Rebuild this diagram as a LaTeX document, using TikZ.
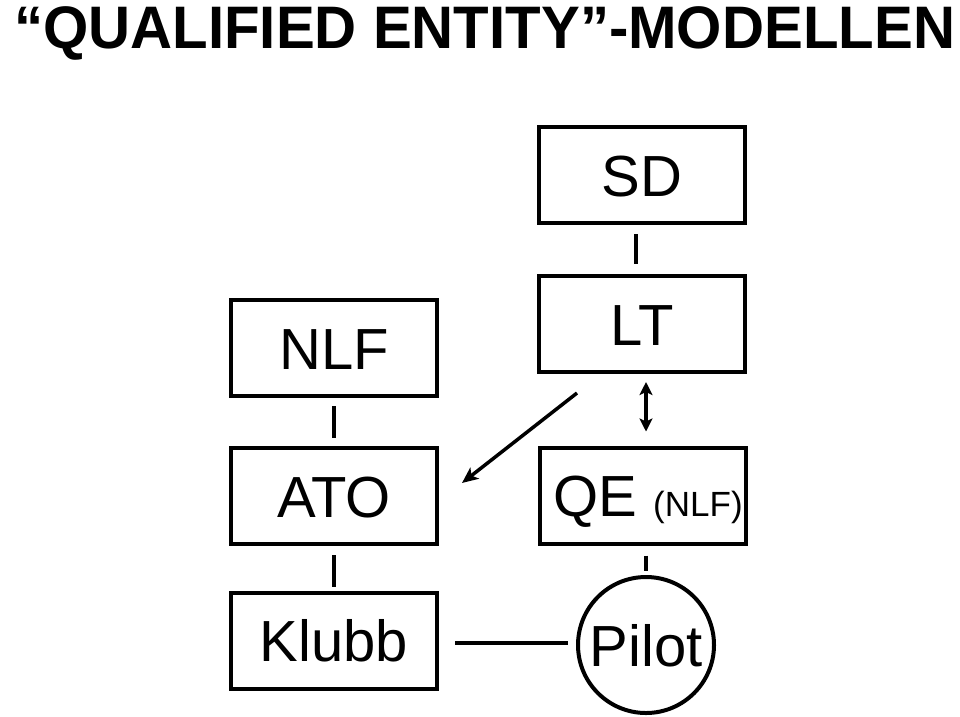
\documentclass[tikz,border=0pt]{standalone}
\usepackage{fontspec}
\setmainfont{Liberation Sans}
\usetikzlibrary{arrows.meta}
\begin{document}
\begin{tikzpicture}[x=1pt,y=-1pt,
  box/.style={draw,line width=4pt,rectangle,minimum width=206pt,minimum height=96pt,
    inner sep=0pt,font=\fontsize{58}{58}\selectfont,text height=42pt,text depth=0pt},
  circ/.style={draw,line width=4pt,circle,minimum size=136pt,inner sep=0pt,
    font=\fontsize{58}{58}\selectfont,text height=42pt,text depth=0pt},
  link/.style={line width=4pt},
  arr/.style={line width=3.5pt,-{Stealth[length=16pt,width=14pt,inset=4pt]}},
  dbl/.style={line width=3.5pt,{Stealth[length=13pt,width=13pt,inset=3pt]}-{Stealth[length=13pt,width=13pt,inset=3pt]}}]
\useasboundingbox (0,0) rectangle (960,716);
\node[anchor=base west,inner sep=0pt] (title) at (14,48)
  {\scalebox{0.97}[1]{\fontsize{60}{60}\selectfont\bfseries “QUALIFIED ENTITY”-MODELLEN}};
\node[box] (SD) at (642,175) {SD};
\node[box] (LT) at (642,324) {LT};
\node[box] (NLF) at (334,348) {NLF};
\node[box] (ATO) at (334,496) {ATO};
\node[box] (Klubb) at (334,640.5) {Klubb};
\node[box] (QE) at (643,495.5) {\hspace{10pt}QE {\fontsize{35}{35}\selectfont(NLF)}};
\node[circ] (Pilot) at (646,645) {Pilot};
\coordinate (a1) at (577,393);
\coordinate (a2) at (462,483);
\draw[link,shorten <=9pt,shorten >=10pt] ([xshift=-6pt]SD.south) -- ([xshift=-6pt]LT.north);
\draw[link,shorten <=8pt,shorten >=8pt] (NLF.south) -- (ATO.north);
\draw[link,shorten <=9pt,shorten >=4pt] (ATO.south) -- (Klubb.north);
\draw[dbl,shorten <=8pt,shorten >=14pt] ([xshift=4pt]LT.south) -- ([xshift=3pt]QE.north);
\draw[link,shorten <=10pt,shorten >=4pt] ([xshift=3pt]QE.south) -- (Pilot.north);
\draw[link,shorten <=16pt,shorten >=8pt] ([yshift=-2.5pt]Klubb.east) -- ([yshift=2pt]Pilot.west);
\draw[arr] (a1) -- (a2);
\end{tikzpicture}
\end{document}
